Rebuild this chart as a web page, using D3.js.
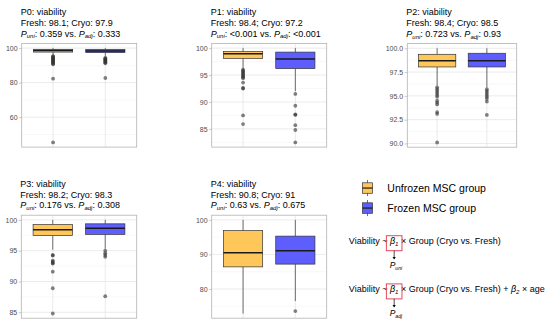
<!DOCTYPE html>
<html>
<head>
<meta charset="utf-8">
<script src="https://cdn.jsdelivr.net/npm/d3@7"></script>
<style>
html,body{margin:0;padding:0;background:#fff;}
svg{display:block;font-family:"Liberation Sans",Arial,sans-serif;}
</style>
</head>
<body>
<svg id="chart" width="550" height="328"></svg>
<script>
// ---------------- DATA ----------------
const panels = ["P0", "P1", "P2", "P3", "P4"];
const groups = ["Fresh", "Cryo"];
const legendLabels = ["Unfrozen MSC group", "Frozen MSC group"];
const freshMean = [98.1, 98.4, 98.4, 98.2, 90.8];
const cryoMean = [97.9, 97.2, 98.5, 98.3, 91];
const pUni = ["0.359", "<0.001", "0.723", "0.176", "0.63"];
const pAdj = ["0.333", "<0.001", "0.93", "0.308", "0.675"];
// box stats: [lower whisker, Q1, median, Q3, upper whisker]
const freshBox = [
  [95.6, 97.7, 98.6, 99.3, 100],
  [96.2, 98.1, 98.95, 99.37, 100],
  [96.06, 98.04, 98.7, 99.37, 100],
  [95.16, 97.45, 98.4, 99.25, 100],
  [72.9, 86.4, 90.5, 96.9, 100]
];
const cryoBox = [
  [95.3, 97.4, 98.3, 99.2, 100],
  [92.0, 96.2, 98.0, 99.26, 100],
  [95.9, 98.04, 98.7, 99.48, 100],
  [95.3, 97.65, 98.66, 99.36, 100],
  [76.5, 87.2, 91.1, 95.3, 100]
];
const freshOutliers = [
  [95.4, 95.0, 94.6, 94.2, 93.8, 93.4, 93.0, 92.6, 92.2, 91.8, 91.4, 91.0, 90.6, 82.3, 45.4],
  [96.0, 95.8, 95.6, 95.4, 95.2, 95.0, 94.8, 94.6, 94.4, 93.6, 92.6, 92.5, 87.5, 85.9],
  [95.9, 95.7, 95.5, 95.3, 95.1, 94.9, 94.5, 94.3, 94.1, 93.3, 93.1, 90.1],
  [94.3, 94.2, 93.4, 93.2, 93.0, 92.9, 91.6, 88.9, 84.8],
  []
];
const cryoOutliers = [
  [94.4, 94.0, 93.6, 93.2, 92.8, 92.4, 92.0, 91.6, 91.2, 82.7],
  [91.5, 89.3, 87.7, 87.6, 85.7, 84.8, 82.5],
  [95.7, 95.5, 95.3, 95.1, 94.9, 94.7, 94.4, 93.0],
  [95.0, 94.6, 94.3, 94.0, 87.6],
  [73.6]
];
const yTicks = [
  [60, 80, 100],
  [85, 90, 95, 100],
  [90, 92.5, 95, 97.5, 100],
  [85, 90, 95, 100],
  [80, 90, 100]
];
const yTickLabels = [
  ["60", "80", "100"],
  ["85", "90", "95", "100"],
  ["90.0", "92.5", "95.0", "97.5", "100.0"],
  ["85", "90", "95", "100"],
  ["80", "90", "100"]
];

// ---------------- LAYOUT ----------------
const panelRects = [
  {x: 21.7, y: 43.4, w: 115, h: 103.7},
  {x: 211.7, y: 43.4, w: 115, h: 103.7},
  {x: 407.3, y: 43.6, w: 109.4, h: 103.6},
  {x: 21.3, y: 215.2, w: 115.4, h: 103},
  {x: 211.7, y: 215.2, w: 115, h: 103}
];
const fills = ["#FFC65A", "#5E5EFF"];
const svg = d3.select("#chart");

function addPText(sel, parts, baseSize, subSize, subDy) {
  // parts: array of [text, kind] kind: "n" normal, "i" italic, "s" italic subscript
  let shifted = false;
  parts.forEach(([t, k]) => {
    const ts = sel.append("tspan").text(t);
    if (k === "i" || k === "s") ts.attr("font-style", "italic");
    if (k === "s") {
      ts.attr("font-size", subSize).attr("dy", subDy);
      shifted = true;
    } else if (shifted) {
      ts.attr("dy", -subDy);
      shifted = false;
    }
  });
  return sel;
}

panels.forEach((p, i) => {
  const r = panelRects[i];
  const g = svg.append("g");
  const fb = freshBox[i], cb = cryoBox[i];
  const allVals = fb.concat(cb, freshOutliers[i], cryoOutliers[i]);
  const lo = d3.min(allVals), hi = d3.max(allVals);
  const pad = (hi - lo) * 0.05;
  const y = d3.scaleLinear().domain([lo - pad, hi + pad]).range([r.y + r.h, r.y]);
  const x = d3.scalePoint().domain(groups).range([r.x, r.x + r.w]).padding(0.6);

  // minor grid
  const t = yTicks[i];
  const step = t[1] - t[0];
  const minors = [];
  for (let k = 0; k < t.length - 1; k++) minors.push((t[k] + t[k + 1]) / 2);
  minors.push(t[0] - step / 2, t[t.length - 1] + step / 2);
  const [d0, d1] = y.domain();
  g.selectAll(".minor").data(minors.filter(v => v >= d0 && v <= d1)).enter()
    .append("line").attr("x1", r.x).attr("x2", r.x + r.w)
    .attr("y1", d => y(d)).attr("y2", d => y(d))
    .attr("stroke", "#F0F0F0").attr("stroke-width", 0.5);
  // major grid
  g.selectAll(".major").data(t).enter()
    .append("line").attr("x1", r.x).attr("x2", r.x + r.w)
    .attr("y1", d => y(d)).attr("y2", d => y(d))
    .attr("stroke", "#DEDEDE").attr("stroke-width", 0.6);
  g.selectAll(".vmajor").data(groups).enter()
    .append("line").attr("x1", d => x(d)).attr("x2", d => x(d))
    .attr("y1", r.y).attr("y2", r.y + r.h)
    .attr("stroke", "#DEDEDE").attr("stroke-width", 0.6);

  // boxes
  const boxes = [fb, cb];
  const outs = [freshOutliers[i], cryoOutliers[i]];
  const bw = x.step() * 0.75;
  groups.forEach((gr, j) => {
    const b = boxes[j];
    const cx = x(gr);
    g.append("line").attr("x1", cx).attr("x2", cx).attr("y1", y(b[4])).attr("y2", y(b[3]))
      .attr("stroke", "#333").attr("stroke-width", 0.7);
    g.append("line").attr("x1", cx).attr("x2", cx).attr("y1", y(b[1])).attr("y2", y(b[0]))
      .attr("stroke", "#333").attr("stroke-width", 0.7);
    g.append("rect").attr("x", cx - bw / 2).attr("width", bw)
      .attr("y", y(b[3])).attr("height", Math.max(0.5, y(b[1]) - y(b[3])))
      .attr("fill", fills[j]).attr("stroke", "#333").attr("stroke-width", 0.7);
    g.append("line").attr("x1", cx - bw / 2).attr("x2", cx + bw / 2)
      .attr("y1", y(b[2])).attr("y2", y(b[2]))
      .attr("stroke", "#1a1a1a").attr("stroke-width", 1.5);
    g.selectAll(".o" + j).data(outs[j]).enter().append("circle")
      .attr("cx", cx).attr("cy", d => y(d)).attr("r", 1.9)
      .attr("fill", "#333").attr("fill-opacity", 0.62);
  });

  // panel border
  g.append("rect").attr("x", r.x).attr("y", r.y).attr("width", r.w).attr("height", r.h)
    .attr("fill", "none").attr("stroke", "#B3B3B3").attr("stroke-width", 0.8);

  // y axis
  const ax = d3.axisLeft(y).tickValues(t).tickSize(2.6).tickPadding(1.5)
    .tickFormat((d, k) => yTickLabels[i][k]);
  const ag = g.append("g").attr("transform", `translate(${r.x},0)`).call(ax);
  ag.select(".domain").remove();
  ag.selectAll(".tick line").attr("stroke", "#B3B3B3").attr("stroke-width", 0.7);
  ag.selectAll(".tick text").attr("fill", "#4D4D4D").attr("font-size", 7)
    .attr("font-family", "Liberation Sans, Arial, sans-serif");

  // titles
  const tx = r.x - 1;
  const b0 = r.y - 28.6;
  g.append("text").attr("x", tx).attr("y", b0).attr("font-size", 9).attr("fill", "#000")
    .text(p + ": viability");
  g.append("text").attr("x", tx).attr("y", b0 + 10.9).attr("font-size", 9).attr("fill", "#000")
    .text(`Fresh: ${freshMean[i]}; Cryo: ${cryoMean[i]}`);
  const t3 = g.append("text").attr("x", tx).attr("y", b0 + 21.8).attr("font-size", 9).attr("fill", "#000");
  addPText(t3, [["P", "i"], ["uni", "s"], [": " + pUni[i] + " vs. ", "n"], ["P", "i"], ["adj", "s"], [": " + pAdj[i], "n"]], 9, 6, 1.8);
});

// ---------------- LEGEND ----------------
legendLabels.forEach((lab, j) => {
  const ky = 182.8 + j * 20;
  const kx = 362.5;
  const lg = svg.append("g");
  lg.append("line").attr("x1", kx + 5).attr("x2", kx + 5).attr("y1", ky - 2.8).attr("y2", ky + 13.3)
    .attr("stroke", "#333").attr("stroke-width", 0.7);
  lg.append("rect").attr("x", kx).attr("y", ky).attr("width", 10).attr("height", 10.5)
    .attr("fill", fills[j]).attr("stroke", "#333").attr("stroke-width", 0.7);
  lg.append("line").attr("x1", kx).attr("x2", kx + 10).attr("y1", ky + 5.25).attr("y2", ky + 5.25)
    .attr("stroke", "#1a1a1a").attr("stroke-width", 1.2);
  lg.append("text").attr("x", 387.3).attr("y", ky + 9.6).attr("font-size", 10.5).attr("fill", "#000").text(lab);
});

// ---------------- FORMULAS ----------------
const formulas = [
  {base: 244.1, parts: [["Viability ~ ", "n"], ["β", "i"], ["1", "s"], [" × Group (Cryo vs. Fresh)", "n"]], p: "uni", arrowEnd: 259.5, pBase: 268.3},
  {base: 292.3, parts: [["Viability ~ ", "n"], ["β", "i"], ["1", "s"], [" × Group (Cryo vs. Fresh) + ", "n"], ["β", "i"], ["2", "s"], [" × age", "n"]], p: "adj", arrowEnd: 307.6, pBase: 316.4}
];
formulas.forEach(f => {
  const fg = svg.append("g");
  const tx = fg.append("text").attr("x", 348.8).attr("y", f.base).attr("font-size", 9).attr("fill", "#000");
  addPText(tx, f.parts, 9, 6, 1.6);
  const node = tx.node();
  const bi = "Viability ~ ".length;
  const s = node.getStartPositionOfChar(bi).x;
  const e = node.getEndPositionOfChar(bi + 1).x;
  const cx = (s + e) / 2;
  fg.append("rect").attr("x", cx - 7.8).attr("y", f.base - 8.4).attr("width", 15.6).attr("height", 15)
    .attr("fill", "none").attr("stroke", "#E8475A").attr("stroke-width", 1);
  fg.append("line").attr("x1", cx).attr("x2", cx).attr("y1", f.base + 6.6).attr("y2", f.arrowEnd - 2)
    .attr("stroke", "#000").attr("stroke-width", 0.7);
  fg.append("path").attr("d", `M${cx - 1.6},${f.arrowEnd - 2.6} L${cx + 1.6},${f.arrowEnd - 2.6} L${cx},${f.arrowEnd} Z`)
    .attr("fill", "#000");
  const pt = fg.append("text").attr("x", cx - 4.5).attr("y", f.pBase).attr("font-size", 8.5).attr("fill", "#000");
  addPText(pt, [["P", "i"], [f.p, "s"]], 8.5, 5.2, 1.5);
});
</script>
</body>
</html>
